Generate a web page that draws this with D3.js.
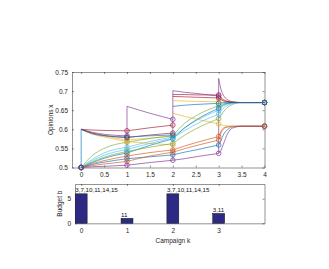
<!DOCTYPE html>
<html>
<head>
<meta charset="utf-8">
<script src="https://cdn.jsdelivr.net/npm/d3@7"></script>
<style>
  body { margin: 0; background: #fff; }
  svg { display: block; font-family: "Liberation Sans", Arial, sans-serif; }
</style>
</head>
<body>
<div id="chart"></div>
<script>
// agent colours (MATLAB default order, agent i -> colour (i-1) % 7)
const palette = ["#0072BD", "#D95319", "#EDB120", "#7E2F8E", "#77AC30", "#4DBEEE", "#A2142F"];

// campaigns and budgets
const campaigns = [0, 1, 2, 3];
const budget = [6, 1, 6, 2];
const targetLabels = ["3,7,10,11,14,15", "11", "3,7,10,11,14,15", "3,11"];

// drawing order of the agents (0-based)
const drawOrder = [0, 1, 2, 4, 5, 6, 7, 8, 9, 10, 11, 12, 13, 14, 3];

// initial opinions x(0)
const x0 = [0.5, 0.5, 0.5, 0.5, 0.5, 0.5, 0.5, 0.5, 0.5, 0.5, 0.5, 0.5, 0.5, 0.5, 0.5];

// sample offsets inside each campaign interval
const seg0T = [0, 0.25, 0.5, 1];
const seg1T = [0, 0.5, 1];
const seg2T = [0, 0.25, 0.5, 1];
const seg3T = [0, 0.05, 0.1, 0.2, 0.3, 0.5, 1];

// opinions after campaign k, per agent 1..15
const seg0 = [
  [0.5, 0.508, 0.514, 0.523],
  [0.5, 0.510, 0.518, 0.530],
  [0.6, 0.590, 0.583, 0.572],
  [0.5, 0.502, 0.503, 0.506],
  [0.5, 0.532, 0.550, 0.566],
  [0.5, 0.522, 0.538, 0.553],
  [0.6, 0.598, 0.597, 0.596],
  [0.5, 0.513, 0.524, 0.538],
  [0.5, 0.505, 0.509, 0.516],
  [0.6, 0.587, 0.580, 0.568],
  [0.6, 0.592, 0.587, 0.583],
  [0.5, 0.515, 0.527, 0.542],
  [0.5, 0.518, 0.532, 0.547],
  [0.6, 0.590, 0.584, 0.578],
  [0.6, 0.588, 0.583, 0.580]
];
const seg1 = [
  [0.523, 0.528, 0.533],
  [0.530, 0.539, 0.546],
  [0.572, 0.577, 0.582],
  [0.506, 0.513, 0.519],
  [0.566, 0.576, 0.583],
  [0.553, 0.568, 0.580],
  [0.596, 0.604, 0.611],
  [0.538, 0.558, 0.575],
  [0.516, 0.530, 0.540],
  [0.568, 0.563, 0.559],
  [0.660, 0.642, 0.626],
  [0.542, 0.553, 0.563],
  [0.547, 0.563, 0.577],
  [0.578, 0.585, 0.590],
  [0.580, 0.583, 0.585]
];
const seg2 = [
  [0.533, 0.540, 0.546, 0.559],
  [0.546, 0.556, 0.565, 0.581],
  [0.675, 0.674, 0.673, 0.672],
  [0.519, 0.523, 0.528, 0.537],
  [0.583, 0.615, 0.635, 0.662],
  [0.580, 0.603, 0.622, 0.650],
  [0.691, 0.691, 0.690, 0.690],
  [0.575, 0.603, 0.624, 0.655],
  [0.540, 0.549, 0.557, 0.572],
  [0.642, 0.634, 0.627, 0.614],
  [0.701, 0.697, 0.694, 0.687],
  [0.563, 0.584, 0.601, 0.628],
  [0.577, 0.596, 0.613, 0.640],
  [0.686, 0.685, 0.684, 0.682],
  [0.660, 0.663, 0.665, 0.668]
];
const seg3 = [
  [0.559, 0.570, 0.585, 0.600, 0.606, 0.608, 0.608],
  [0.581, 0.595, 0.603, 0.607, 0.608, 0.608, 0.608],
  [0.680, 0.677, 0.674, 0.672, 0.671, 0.670, 0.670],
  [0.537, 0.545, 0.560, 0.590, 0.603, 0.608, 0.608],
  [0.662, 0.665, 0.667, 0.669, 0.670, 0.670, 0.670],
  [0.650, 0.656, 0.661, 0.666, 0.669, 0.670, 0.670],
  [0.690, 0.683, 0.678, 0.673, 0.671, 0.670, 0.670],
  [0.655, 0.660, 0.664, 0.668, 0.669, 0.670, 0.670],
  [0.572, 0.590, 0.600, 0.606, 0.608, 0.608, 0.608],
  [0.614, 0.612, 0.610, 0.609, 0.608, 0.608, 0.608],
  [0.733, 0.705, 0.690, 0.677, 0.672, 0.670, 0.670],
  [0.628, 0.636, 0.645, 0.658, 0.665, 0.670, 0.670],
  [0.640, 0.648, 0.655, 0.663, 0.667, 0.670, 0.670],
  [0.682, 0.678, 0.675, 0.672, 0.671, 0.670, 0.670],
  [0.668, 0.669, 0.670, 0.670, 0.670, 0.670, 0.670]
];

const segs = [seg0, seg1, seg2, seg3];
const segTs = [seg0T, seg1T, seg2T, seg3T];

const W = 329, H = 269;
const axisColor = "#262626";

const svg = d3.select("#chart").append("svg").attr("width", W).attr("height", H);

// ---------- top: opinions ----------
const x = d3.scaleLinear().domain([-0.2, 4]).range([72, 264.5]);
const y = d3.scaleLinear().domain([0.5, 0.75]).range([167.5, 72]);

function boxAxes(g, xs, ys, xticks, yticks, xfmt, yfmt) {
  const [x0p, x1p] = xs.range();
  const [y0p, y1p] = ys.range();
  const bottom = g.append("g").attr("transform", `translate(0,${y0p})`)
    .call(d3.axisBottom(xs).tickValues(xticks).tickFormat(xfmt).tickSizeInner(-2).tickSizeOuter(0).tickPadding(5));
  const top = g.append("g").attr("transform", `translate(0,${y1p})`)
    .call(d3.axisTop(xs).tickValues(xticks).tickFormat("").tickSizeInner(-2).tickSizeOuter(0));
  const left = g.append("g").attr("transform", `translate(${x0p},0)`)
    .call(d3.axisLeft(ys).tickValues(yticks).tickFormat(yfmt).tickSizeInner(-2).tickSizeOuter(0).tickPadding(4));
  const right = g.append("g").attr("transform", `translate(${x1p},0)`)
    .call(d3.axisRight(ys).tickValues(yticks).tickFormat("").tickSizeInner(-2).tickSizeOuter(0));
  [bottom, top, left, right].forEach(a => {
    a.select(".domain").attr("stroke", axisColor).attr("stroke-width", 0.5);
    a.selectAll(".tick line").attr("stroke", axisColor).attr("stroke-width", 0.5);
    a.selectAll("text").attr("fill", axisColor).style("font-size", "6.5px");
  });
}

const gTop = svg.append("g");
boxAxes(gTop, x, y, d3.range(0, 4.01, 0.5), [0.5, 0.55, 0.6, 0.65, 0.7, 0.75],
  d => d3.format("~g")(d), d => d3.format("~g")(d));

// campaign jump spans (lowest pre value to highest post value)
const spanColors = [palette[0], palette[3], palette[3], palette[3]];
campaigns.forEach((k, ci) => {
  const pre = ci === 0 ? x0 : segs[ci - 1].map(a => a[a.length - 1]);
  const post = segs[ci].map(a => a[0]);
  gTop.append("line")
    .attr("x1", x(k)).attr("x2", x(k))
    .attr("y1", y(d3.min(pre))).attr("y2", y(d3.max(post)))
    .attr("stroke", spanColors[ci]).attr("stroke-width", 0.65);
});

const line = d3.line().x(d => x(d[0])).y(d => y(d[1])).curve(d3.curveMonotoneX);

drawOrder.forEach(i => {
  const c = palette[i % 7];
  segs.forEach((seg, k) => {
    const pts = segTs[k].map((t, j) => [k + t, seg[i][j]]);
    gTop.append("path").attr("d", line(pts))
      .attr("fill", "none").attr("stroke", c).attr("stroke-width", 0.65);
  });
});

// markers at k = 0..4 (opinion before each campaign)
drawOrder.forEach(i => {
  const c = palette[i % 7];
  const marks = [[0, x0[i]]];
  segs.forEach((seg, k) => marks.push([k + 1, seg[i][seg[i].length - 1]]));
  gTop.selectAll(null).data(marks).enter().append("circle")
    .attr("cx", d => x(d[0])).attr("cy", d => y(d[1])).attr("r", 2.3)
    .attr("fill", "none").attr("stroke", c).attr("stroke-width", 0.7);
});

svg.append("text")
  .attr("transform", `translate(53,${(72 + 167.5) / 2}) rotate(-90)`)
  .attr("text-anchor", "middle").attr("fill", axisColor)
  .style("font-size", "6.5px").text("Opinions x");

// ---------- bottom: budget ----------
const xb = d3.scaleLinear().domain([-0.135, 4]).range([75, 264.5]);
const yb = d3.scaleLinear().domain([0, 8]).range([223.3, 184]);
const gBot = svg.append("g");
const barW = 0.26;

gBot.selectAll("rect").data(campaigns).enter().append("rect")
  .attr("x", (d) => xb(d - barW / 2))
  .attr("width", xb(barW) - xb(0))
  .attr("y", (d, i) => yb(budget[i]))
  .attr("height", (d, i) => yb(0) - yb(budget[i]))
  .attr("fill", "#2d2a86").attr("stroke", "#111").attr("stroke-width", 0.5);

boxAxes(gBot, xb, yb, [0, 1, 2, 3], [0, 5], d => d, d => d);

gBot.selectAll(".blabel").data(campaigns).enter().append("text")
  .attr("x", d => xb(d - barW / 2))
  .attr("y", (d, i) => yb(budget[i]) - 1.5)
  .attr("fill", "#111").style("font-size", "6.2px")
  .text((d, i) => targetLabels[i]);

svg.append("text")
  .attr("transform", `translate(62,${(184 + 223.3) / 2}) rotate(-90)`)
  .attr("text-anchor", "middle").attr("fill", axisColor)
  .style("font-size", "6.5px").text("Budget b");

svg.append("text")
  .attr("x", xb(2)).attr("y", 243)
  .attr("text-anchor", "middle").attr("fill", axisColor)
  .style("font-size", "6.5px").text("Campaign k");
</script>
</body>
</html>
